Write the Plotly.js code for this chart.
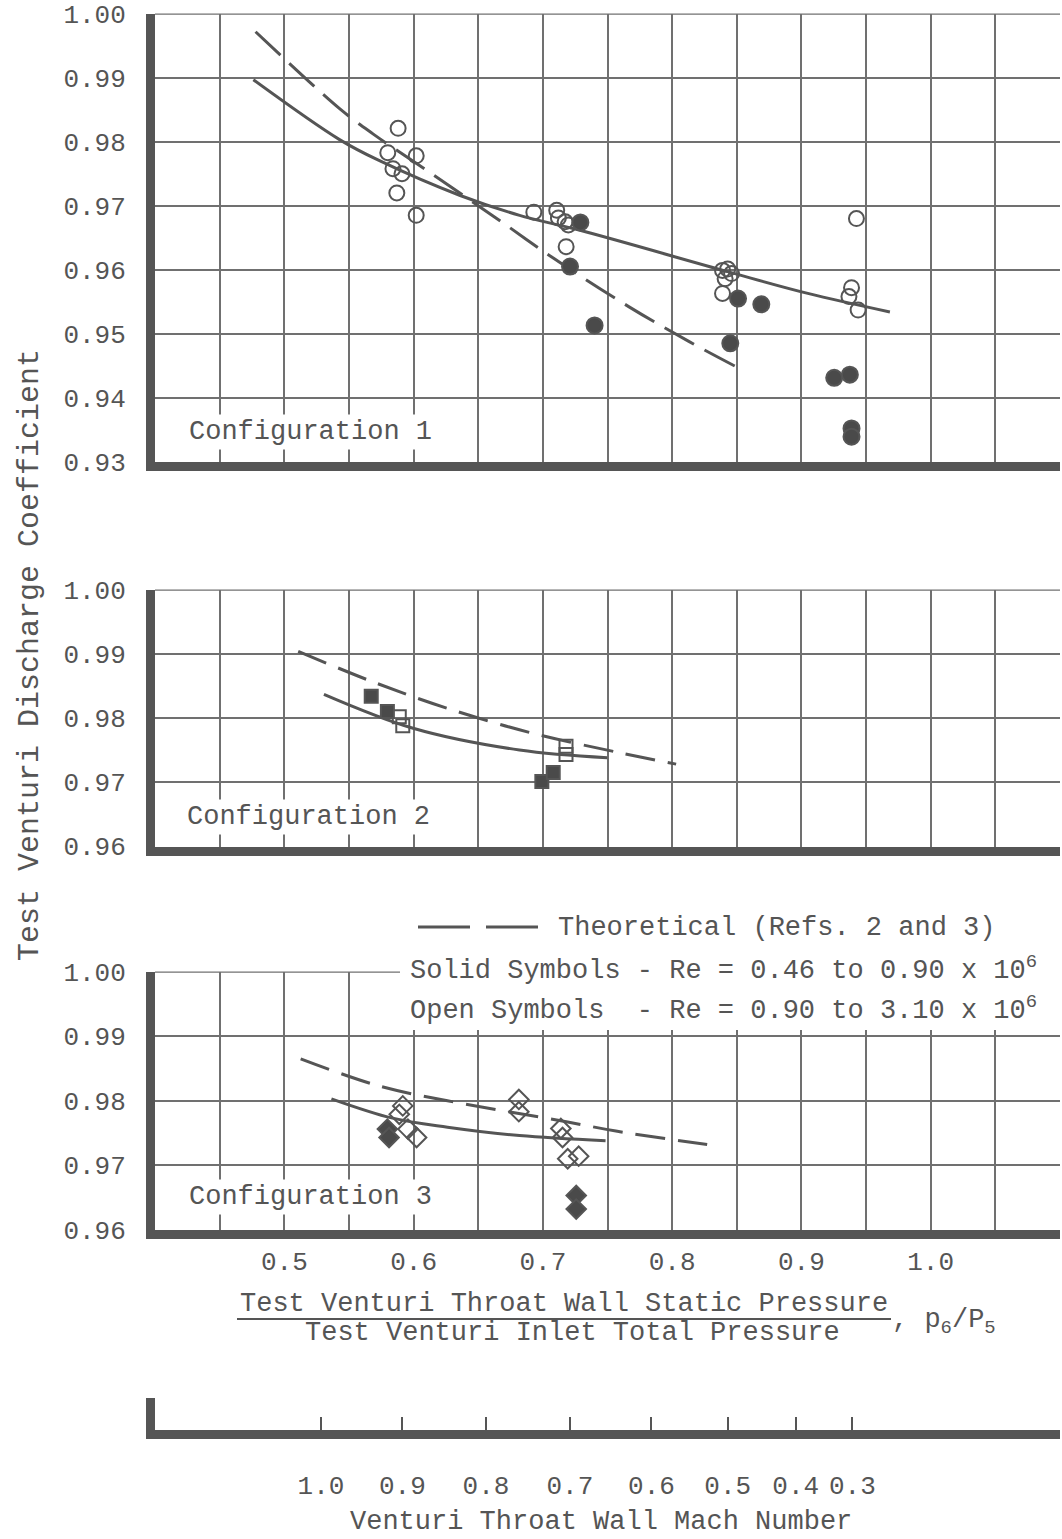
<!DOCTYPE html>
<html><head><meta charset="utf-8">
<script src="https://cdn.plot.ly/plotly-3.0.1.min.js"></script>
<style>html,body{margin:0;padding:0;background:#fff;}#chart{width:1062px;height:1539px;}</style>
</head><body><div id="chart"></div>
<script>
// ---------------- DATA ----------------
// Configuration 1
const c1OpenX  = [0.580, 0.588, 0.602, 0.584, 0.591, 0.587, 0.602, 0.693, 0.7107, 0.712, 0.7172, 0.7197, 0.718, 0.839, 0.843, 0.846, 0.841, 0.839, 0.9426, 0.9388, 0.9368, 0.9439];
const c1OpenY  = [0.9783, 0.9821, 0.9778, 0.9758, 0.9750, 0.9720, 0.9685, 0.9690, 0.9693, 0.9681, 0.9675, 0.9670, 0.9636, 0.9599, 0.9601, 0.9594, 0.9586, 0.9563, 0.9680, 0.9572, 0.9558, 0.9537];
const c1SolidX = [0.729, 0.721, 0.740, 0.851, 0.869, 0.845, 0.9254, 0.9375, 0.9388, 0.9388];
const c1SolidY = [0.9674, 0.9605, 0.9513, 0.9555, 0.9546, 0.9485, 0.9431, 0.9436, 0.9352, 0.9339];
const fit1X = [0.476, 0.543, 0.574, 0.636, 0.682, 0.728, 0.843, 0.905, 0.9685];
const fit1Y = [0.9897, 0.9803, 0.9770, 0.9716, 0.9685, 0.9662, 0.9597, 0.9563, 0.9534];
const th1X  = [0.4777, 0.5432, 0.5688, 0.6125, 0.6665, 0.7089, 0.7667, 0.8129, 0.849];
const th1Y  = [0.9972, 0.9851, 0.9812, 0.9752, 0.9677, 0.9617, 0.9542, 0.9488, 0.9449];
// Configuration 2
const c2OpenX  = [0.5889, 0.5916, 0.7179, 0.7179];
const c2OpenY  = [0.9802, 0.9788, 0.9756, 0.9743];
const c2SolidX = [0.5672, 0.5797, 0.6992, 0.708];
const c2SolidY = [0.9834, 0.9810, 0.9701, 0.9715];
const fit2X = [0.5306, 0.5996, 0.6819, 0.7498];
const fit2Y = [0.9837, 0.9784, 0.9750, 0.9738];
const th2X  = [0.5107, 0.569, 0.6262, 0.6924, 0.759, 0.8031];
const th2Y  = [0.9904, 0.9856, 0.9815, 0.9776, 0.9746, 0.9728];
// Configuration 3
const c3OpenX  = [0.5916, 0.5889, 0.5956, 0.6023, 0.6814, 0.6814, 0.7139, 0.7152, 0.7192, 0.7277];
const c3OpenY  = [0.9792, 0.9779, 0.9756, 0.9743, 0.9802, 0.9783, 0.9757, 0.9743, 0.9710, 0.9714];
const c3SolidX = [0.5797, 0.581, 0.7258, 0.7258];
const c3SolidY = [0.9756, 0.9743, 0.9653, 0.9632];
const fit3X = [0.5364, 0.5837, 0.6262, 0.6819, 0.7485];
const fit3Y = [0.9803, 0.9773, 0.9759, 0.9746, 0.9738];
const th3X  = [0.5126, 0.5731, 0.6262, 0.7192, 0.7565, 0.8271];
const th3Y  = [0.9865, 0.9823, 0.9800, 0.9767, 0.9753, 0.9732];
// Axes
const xGridVals = [0.45, 0.50, 0.55, 0.60, 0.65, 0.70, 0.75, 0.80, 0.85, 0.90, 0.95, 1.00, 1.05, 1.10];
const xTickText = ['', '0.5', '', '0.6', '', '0.7', '', '0.8', '', '0.9', '', '1.0', '', ''];
const yTicks1 = [0.93, 0.94, 0.95, 0.96, 0.97, 0.98, 0.99, 1.00];
const yTicks23 = [0.96, 0.97, 0.98, 0.99, 1.00];
const machLabels = ['1.0', '0.9', '0.8', '0.7', '0.6', '0.5', '0.4', '0.3'];
const machValues = [1.0, 0.9, 0.8, 0.7, 0.6, 0.5, 0.4, 0.3];
// isentropic static/total pressure ratio for each Mach tick (gamma = 1.4)
const machTickPos = machValues.map(M => Math.pow(1 + 0.2 * M * M, -3.5));

// ---------------- LAYOUT HELPERS ----------------
const W = 1062, H = 1539, ML = 155, MR = 2;
const PW = W - ML - MR;
const px = x => (x - ML) / PW;
const py = y => 1 - y / H;
const FONT = 'Liberation Mono, Courier New, monospace';
const INK = '#555555';
const GRID = '#707070';
const TXT = {family: FONT, size: 27, color: INK};

function ptrace(x, y, xa, ya, symbol, size, filled) {
  return {x, y, xaxis: xa, yaxis: ya, type: 'scatter', mode: 'markers', showlegend: false,
    marker: {symbol, size, color: filled ? '#4a4a4a' : INK, line: {width: 2, color: INK}}};
}
function ltrace(x, y, xa, ya, dash) {
  return {x, y, xaxis: xa, yaxis: ya, type: 'scatter', mode: 'lines', showlegend: false,
    line: {shape: 'spline', smoothing: 1, width: 3, color: INK, dash: dash || 'solid'}};
}

const traces = [
  ltrace(th1X, th1Y, 'x', 'y', '34px,12px'),
  ltrace(fit1X, fit1Y, 'x', 'y'),
  ptrace(c1OpenX, c1OpenY, 'x', 'y', 'circle-open', 15, false),
  ptrace(c1SolidX, c1SolidY, 'x', 'y', 'circle', 16, true),
  ltrace(th2X, th2Y, 'x2', 'y2', '30px,13px'),
  ltrace(fit2X, fit2Y, 'x2', 'y2'),
  ptrace(c2OpenX, c2OpenY, 'x2', 'y2', 'square-open', 13, false),
  ptrace(c2SolidX, c2SolidY, 'x2', 'y2', 'square', 13, true),
  ltrace(th3X, th3Y, 'x3', 'y3', '30px,13px'),
  ltrace(fit3X, fit3Y, 'x3', 'y3'),
  ptrace(c3OpenX, c3OpenY, 'x3', 'y3', 'diamond-open', 15, false),
  ptrace(c3SolidX, c3SolidY, 'x3', 'y3', 'diamond', 15, true),
  // invisible trace so that the Mach-number axis is drawn
  {x: [0.4], y: [0], xaxis: 'x4', yaxis: 'y4', type: 'scatter', mode: 'markers', showlegend: false,
   marker: {opacity: 0}, hoverinfo: 'skip'}
];

const tickFont = {family: FONT, size: 26, color: INK};
function xAxis(anchor, grid, labels) {
  return {anchor, domain: [0, 1], range: [0.3999, 1.1001], showgrid: true, gridcolor: GRID, gridwidth: 2,
    tickmode: 'array', tickvals: grid, ticktext: labels || grid.map(() => ''),
    showticklabels: !!labels, ticks: '', showline: true, linewidth: 9, linecolor: INK,
    zeroline: false, tickfont: tickFont, ticklabelstandoff: 0, fixedrange: true};
}
function yAxis(anchor, top, bottom, range, ticks) {
  return {anchor, domain: [py(bottom), py(top)], range, showgrid: true, gridcolor: GRID, gridwidth: 2,
    tickmode: 'array', tickvals: ticks, tickformat: '.2f', ticks: '', showline: true, linewidth: 9,
    linecolor: INK, zeroline: false, tickfont: tickFont, ticklabelstandoff: 15, fixedrange: true};
}

function label(text, x, y, anchor, extra) {
  return Object.assign({text, xref: 'paper', yref: 'paper', x: px(x), y: py(y), xanchor: anchor,
    yanchor: 'middle', showarrow: false, font: TXT}, extra || {});
}

const layout = {
  width: W, height: H, margin: {l: ML, r: MR, t: 0, b: 0},
  paper_bgcolor: '#ffffff', plot_bgcolor: '#ffffff', showlegend: false,
  font: TXT,
  xaxis: xAxis('y', xGridVals.slice(0, -1)),
  yaxis: yAxis('x', 13.5, 462, [0.92995, 1.00005], yTicks1),
  xaxis2: xAxis('y2', xGridVals.slice(0, -1)),
  yaxis2: yAxis('x2', 589.5, 846.5, [0.95995, 1.00005], yTicks23),
  xaxis3: xAxis('y3', xGridVals, xTickText),
  yaxis3: yAxis('x3', 971.5, 1230, [0.95995, 1.00005], yTicks23),
  xaxis4: {anchor: 'y4', domain: [0, 1], range: [0.3999, 1.1001], showgrid: false, zeroline: false,
    showline: true, linewidth: 9, linecolor: INK, tickmode: 'array', tickvals: machTickPos,
    ticktext: machLabels, ticks: 'inside', ticklen: 13, tickwidth: 2, tickcolor: INK,
    tickfont: tickFont, ticklabelstandoff: 24, fixedrange: true},
  yaxis4: {anchor: 'x4', domain: [py(1430), py(1398)], range: [0, 1], showgrid: false, zeroline: false,
    showline: true, linewidth: 9, linecolor: INK, showticklabels: false, ticks: '', fixedrange: true},
  shapes: [
    {type: 'line', xref: 'paper', yref: 'y', x0: 0, x1: 1, y0: 1.0, y1: 1.0, layer: 'below', line: {color: GRID, width: 2}},
    {type: 'line', xref: 'paper', yref: 'y2', x0: 0, x1: 1, y0: 1.0, y1: 1.0, layer: 'below', line: {color: GRID, width: 2}},
    {type: 'line', xref: 'paper', yref: 'y3', x0: 0, x1: px(400), y0: 1.0, y1: 1.0, layer: 'below', line: {color: GRID, width: 2}},
    // white box behind the key text
    {type: 'rect', xref: 'paper', yref: 'paper', x0: px(402), x1: px(1054), y0: py(1030), y1: py(960),
     layer: 'above', fillcolor: '#ffffff', line: {width: 0}},
    // key sample of the dashed line
    {type: 'line', xref: 'paper', yref: 'paper', x0: px(418), x1: px(540), y0: py(927), y1: py(927),
     line: {color: INK, width: 3, dash: '52px,16px'}},
    // fraction bar of the x title
    {type: 'line', xref: 'paper', yref: 'paper', x0: px(237), x1: px(891), y0: py(1319), y1: py(1319),
     line: {color: INK, width: 2}}
  ],
  annotations: [
    label('Configuration 1', 186, 432, 'left', {bgcolor: '#ffffff', borderpad: 2}),
    label('Configuration 2', 184, 817, 'left', {bgcolor: '#ffffff', borderpad: 2}),
    label('Configuration 3', 186, 1197, 'left', {bgcolor: '#ffffff', borderpad: 2}),
    label('Theoretical (Refs. 2 and 3)', 556, 928, 'left'),
    label('Solid Symbols - Re = 0.46 to 0.90 x 10<sup>6</sup>', 408, 968, 'left'),
    label('Open Symbols\u00a0\u00a0- Re = 0.90 to 3.10 x 10<sup>6</sup>', 408, 1008, 'left'),
    label('Test Venturi Throat Wall Static Pressure', 564, 1304, 'center'),
    label('Test Venturi Inlet Total Pressure', 572, 1333, 'center'),
    label(', p<sub>6</sub>/P<sub>5</sub>', 890, 1322, 'left'),
    label('Venturi Throat Wall Mach Number', 601, 1522, 'center'),
    label('Test Venturi Discharge Coefficient', 30, 655, 'center',
      {textangle: -90, font: {family: FONT, size: 30, color: INK}})
  ]
};

Plotly.newPlot('chart', traces, layout, {staticPlot: true, displayModeBar: false});
</script>
</body></html>
